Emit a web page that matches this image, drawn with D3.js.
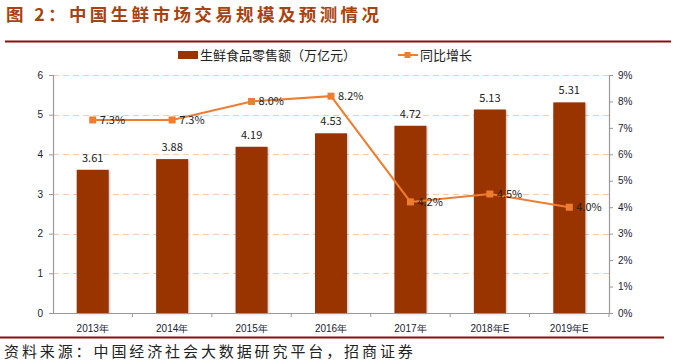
<!DOCTYPE html>
<html><head><meta charset="utf-8">
<script src="https://cdn.jsdelivr.net/npm/d3@7"></script>
<style>
body{margin:0;background:#fff;}
svg{display:block;font-family:"Noto Sans CJK SC","Noto Sans",sans-serif;}
</style></head>
<body>
<svg id="c" width="676" height="361"></svg>
<script>
const categories = ["2013年","2014年","2015年","2016年","2017年","2018年E","2019年E"];
const salesValues = [3.61,3.88,4.19,4.53,4.72,5.13,5.31];
const growthValues = [7.3,7.3,8.0,8.2,4.2,4.5,4.0];
const leftTicks = [0,1,2,3,4,5,6];
const rightTicks = [0,1,2,3,4,5,6,7,8,9];
const titleText = "图 2：中国生鲜市场交易规模及预测情况";
const sourceText = "资料来源：中国经济社会大数据研究平台，招商证券";
const legendBar = "生鲜食品零售额（万亿元）";
const legendLine = "同比增长";

const svg = d3.select("#c");
const m = {l:53, r:609, t:75, b:313};
const xc = d3.scaleBand().domain(categories).range([m.l, m.r]);
const yL = d3.scaleLinear().domain([0,6]).range([m.b, m.t]);
const yR = d3.scaleLinear().domain([0,9]).range([m.b, m.t]);

// title
svg.append("text").attr("x",6).attr("y",21).text(titleText)
  .attr("font-size",17.5).attr("font-weight","bold").attr("fill","#A8420F").attr("letter-spacing",3.4);
// top line
svg.append("line").attr("x1",5).attr("x2",671).attr("y1",41.5).attr("y2",41.5).attr("stroke","#8B0F0F").attr("stroke-width",2);
// bottom line
svg.append("line").attr("x1",0).attr("x2",664).attr("y1",337.5).attr("y2",337.5).attr("stroke","#8B0F0F").attr("stroke-width",2);
// source
svg.append("text").attr("x",4).attr("y",357).text(sourceText)
  .attr("font-size",15).attr("fill","#222").attr("letter-spacing",2.9);

// gridlines
svg.append("g").selectAll("line").data(leftTicks.filter(d=>d>0)).join("line")
  .attr("x1",m.l).attr("x2",m.r).attr("y1",d=>Math.round(yL(d))+0.5).attr("y2",d=>Math.round(yL(d))+0.5)
  .attr("stroke","#F8CBAD").attr("stroke-dasharray","6,4").attr("stroke-width",1);

// bars
svg.append("g").selectAll("rect").data(salesValues).join("rect")
  .attr("x",(d,i)=>xc(categories[i]) + xc.bandwidth()/2 - 16)
  .attr("width",32)
  .attr("y",d=>yL(d)).attr("height",d=>m.b-yL(d))
  .attr("fill","#993300")
  .style("filter","drop-shadow(1px 1px 1px rgba(0,0,0,0.25))");
svg.append("g").selectAll("text").data(salesValues).join("text")
  .attr("x",(d,i)=>xc(categories[i]) + xc.bandwidth()/2)
  .attr("y",d=>yL(d)-8).attr("text-anchor","middle")
  .attr("font-size",11).attr("fill","#222").text(d=>d.toFixed(2));

// axes
const axL = d3.axisLeft(yL).tickValues(leftTicks).tickSize(4).tickFormat(d3.format("d"));
const gL = svg.append("g").attr("transform",`translate(${m.l},0)`).call(axL);
const axR = d3.axisRight(yR).tickValues(rightTicks).tickSize(4).tickFormat(d=>d+"%");
const gR = svg.append("g").attr("transform",`translate(${m.r},0)`).call(axR);
const axB = d3.axisBottom(xc).tickSize(4).tickSizeOuter(0);
const gB = svg.append("g").attr("transform",`translate(0,${m.b})`).call(axB);
gB.selectAll(".tick line").attr("transform",`translate(${xc.bandwidth()/2},0)`);
[gL,gR,gB].forEach(g=>{
  g.selectAll("path").attr("stroke","#999").attr("stroke-width",1.2);
  g.selectAll("line").attr("stroke","#999");
  g.selectAll("text").attr("font-size",10).attr("fill","#1a1a33").attr("font-family","'Liberation Sans','DejaVu Sans',sans-serif");
});
gB.selectAll("text").attr("dy","1.2em");
gL.selectAll("text").attr("x",-10);
gR.selectAll("text").attr("x",9);

// line
const pts = growthValues.map((v,i)=>[xc(categories[i])+xc.bandwidth()/2, yR(v)]);
svg.append("path").datum(pts).attr("d",d3.line()).attr("fill","none").attr("stroke","#ED7D31").attr("stroke-width",2);
svg.append("g").selectAll("rect").data(pts).join("rect")
  .attr("x",d=>d[0]-3.5).attr("y",d=>d[1]-3.5).attr("width",7).attr("height",7).attr("fill","#ED7D31");
svg.append("g").selectAll("text").data(growthValues).join("text")
  .attr("x",(d,i)=>pts[i][0]+7).attr("y",(d,i)=>pts[i][1]+4)
  .attr("font-size",11).attr("fill","#222").text(d=>d.toFixed(1)+"%");

// legend
svg.append("rect").attr("x",178).attr("y",51).attr("width",20).attr("height",8).attr("fill","#993300");
svg.append("text").attr("x",200).attr("y",60).attr("font-size",13).attr("fill","#222").text(legendBar);
svg.append("line").attr("x1",398).attr("x2",418).attr("y1",55).attr("y2",55).attr("stroke","#ED7D31").attr("stroke-width",2);
svg.append("rect").attr("x",404.5).attr("y",52).attr("width",6).attr("height",6).attr("fill","#ED7D31");
svg.append("text").attr("x",420).attr("y",60).attr("font-size",13).attr("fill","#222").text(legendLine);
</script>
</body></html>
